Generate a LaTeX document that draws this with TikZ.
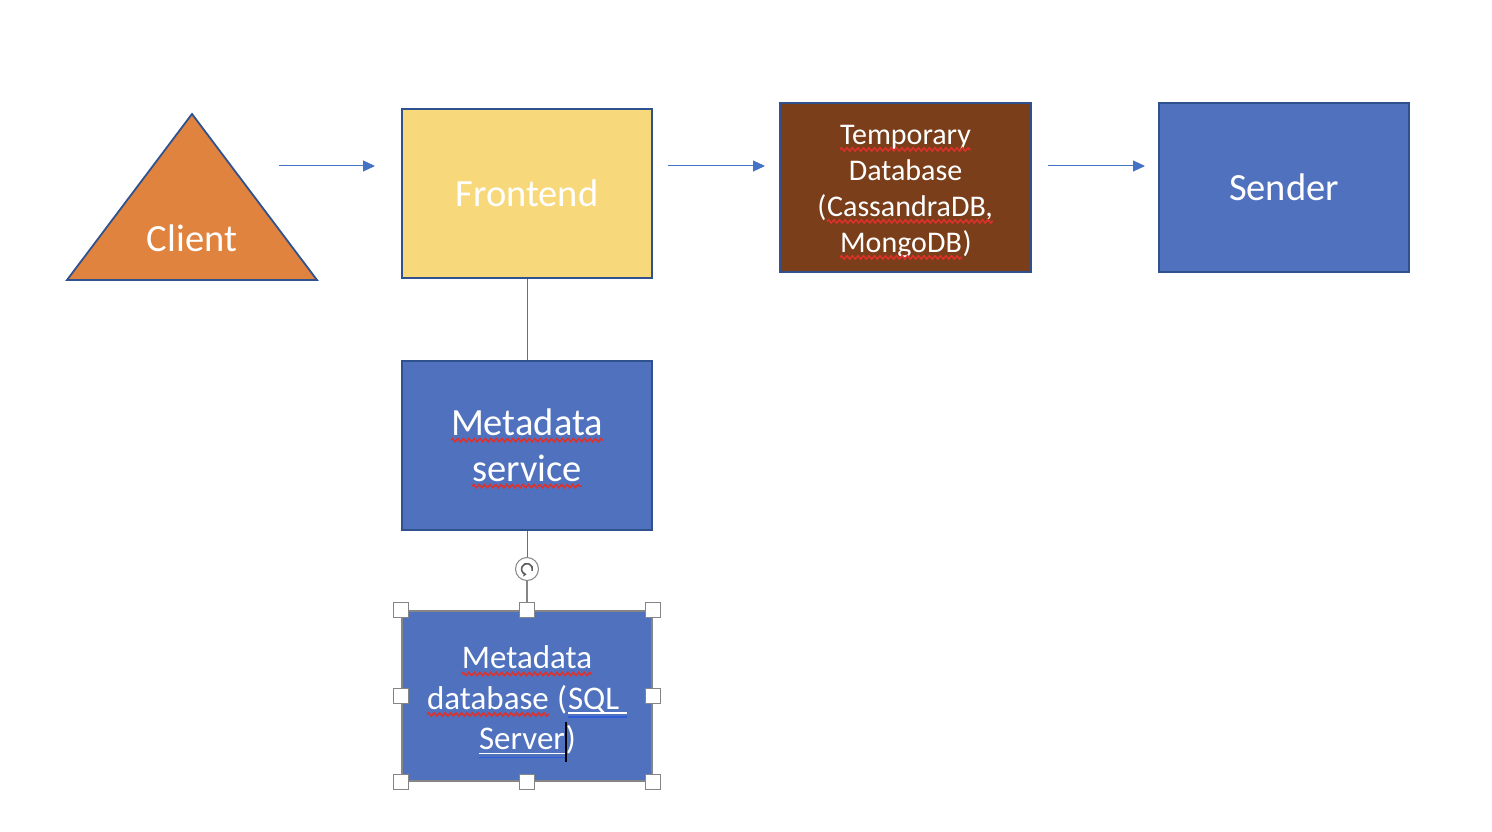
\documentclass[tikz,border=0pt]{standalone}
\usepackage{fontspec}
\setmainfont{Carlito}
\usetikzlibrary{arrows.meta,decorations.pathmorphing,calc}
\definecolor{outl}{HTML}{2F528F}
\definecolor{orng}{HTML}{E0833F}
\definecolor{yel}{HTML}{F7D97B}
\definecolor{brwn}{HTML}{7A3E1A}
\definecolor{blu}{HTML}{5072BE}
\definecolor{arr}{HTML}{4472C4}
\definecolor{squigred}{HTML}{E0302A}
\definecolor{gramblue}{HTML}{2E5BD8}
\definecolor{selgray}{HTML}{858585}
\tikzset{
  innerw/.style={rectangle,inner sep=0pt,outer sep=0pt,draw=none,fill=none,
    minimum width=0pt,minimum height=0pt,text width={}},
  squig/.style={squigred,fill=none,line width=1.5pt,decorate,
    decoration={zigzag,amplitude=1.7pt,segment length=5.5pt}},
}
\newcommand\sq[1]{\tikz[baseline=(w.base)]{\node[innerw] (w) {#1};\draw[squig] ([yshift=-5pt]w.base west) -- ([yshift=-5pt]w.base east);}}
\newcommand\dul[1]{\tikz[baseline=(w.base)]{\node[innerw] (w) {#1};\draw[white,fill=none,line width=1.8pt] ([yshift=-3.5pt]w.base west) -- ([yshift=-3.5pt]w.base east);\draw[gramblue,fill=none,line width=1.8pt] ([yshift=-7.5pt]w.base west) -- ([yshift=-7.5pt]w.base east);}}
\newcommand\cursorbar{\makebox[0pt][c]{\color{black}\rule[-12pt]{2.5pt}{40pt}}}
\begin{document}
\begin{tikzpicture}[x=1pt,y=-1pt,
  box/.style={rectangle,draw=outl,line width=1.8pt,minimum width=250pt,minimum height=169pt,inner sep=0pt},
  boxtext/.style={inner sep=0pt,text=white,align=center,font=\fontsize{38.5}{46}\selectfont},
  conn/.style={arr,line width=1pt},
  arrow/.style={conn,-{Triangle[length=12pt,width=11pt]}},
  handle/.style={rectangle,draw=selgray,fill=white,line width=0.9pt,minimum size=15pt,inner sep=0pt},
  rothandle/.style={circle,draw=selgray,fill=white,line width=1pt,minimum size=23pt,inner sep=0pt},
]
\useasboundingbox (0,0) rectangle (1492,832);
% Client triangle
\draw[fill=orng,draw=outl,line width=1.8pt,line join=miter] (67,280) -- (192,114) -- (317,280) -- cycle;
\node[boxtext] (client) at (192,238) {Client};
% boxes
\node[box,fill=yel] (front) at (527,193.5) {};
\node[boxtext] (frontt) at (front.center) {Frontend};
\node[box,fill=brwn,minimum width=251pt] (temp) at (905.5,187.5) {};
\node[boxtext,font=\fontsize{30}{36}\selectfont] (tempt) at ($(temp.center)+(0,5)$)
  {\sq{Temporary}\\Database\\(\sq{CassandraDB,}\\\sq{MongoDB})};
\node[box,fill=blu] (send) at (1284,187.5) {};
\node[boxtext] (sendt) at (send.center) {Sender};
\node[box,fill=blu] (svc) at (527,445.5) {};
\node[boxtext] (svct) at ($(svc.center)+(0,3)$) {\sq{Metadata}\\\sq{service}};
\node[box,fill=blu,draw=selgray,minimum height=170pt] (mdb) at (527,696) {};
\node[boxtext,font=\fontsize{33}{40.5}\selectfont] (mdbt) at ($(mdb.center)+(0,8)$)
  {\sq{Metadata}\\\sq{database} (\dul{SQL\ }\\\dul{Server}\cursorbar)};
% arrows
\coordinate (a1s) at (279,166); \coordinate (a1e) at (375,166);
\coordinate (a2s) at (668,166); \coordinate (a2e) at (765,166);
\coordinate (a3s) at (1048,166); \coordinate (a3e) at (1145,166);
\draw[arrow] (a1s) -- (a1e);
\draw[arrow] (a2s) -- (a2e);
\draw[arrow] (a3s) -- (a3e);
% vertical connectors
\draw[conn] (front.south) -- (svc.north);
\node[rothandle] (rot) at (527,569) {};
\draw[conn] (svc.south) -- (rot.north);
\draw[selgray,line width=1.6pt] (rot.south) -- (mdb.north);
\draw[selgray!70!black,line width=1.6pt,-{Stealth[length=3.5pt,width=5pt]}]
  ([shift={(-20:5.5pt)}]rot.center) arc[start angle=-20,end angle=265,radius=5.5pt];
% selection handles
\foreach \a [count=\i] in {north west,north,north east,west,east,south west,south,south east}
  \node[handle] (h\i) at (mdb.\a) {};
\end{tikzpicture}
\end{document}
